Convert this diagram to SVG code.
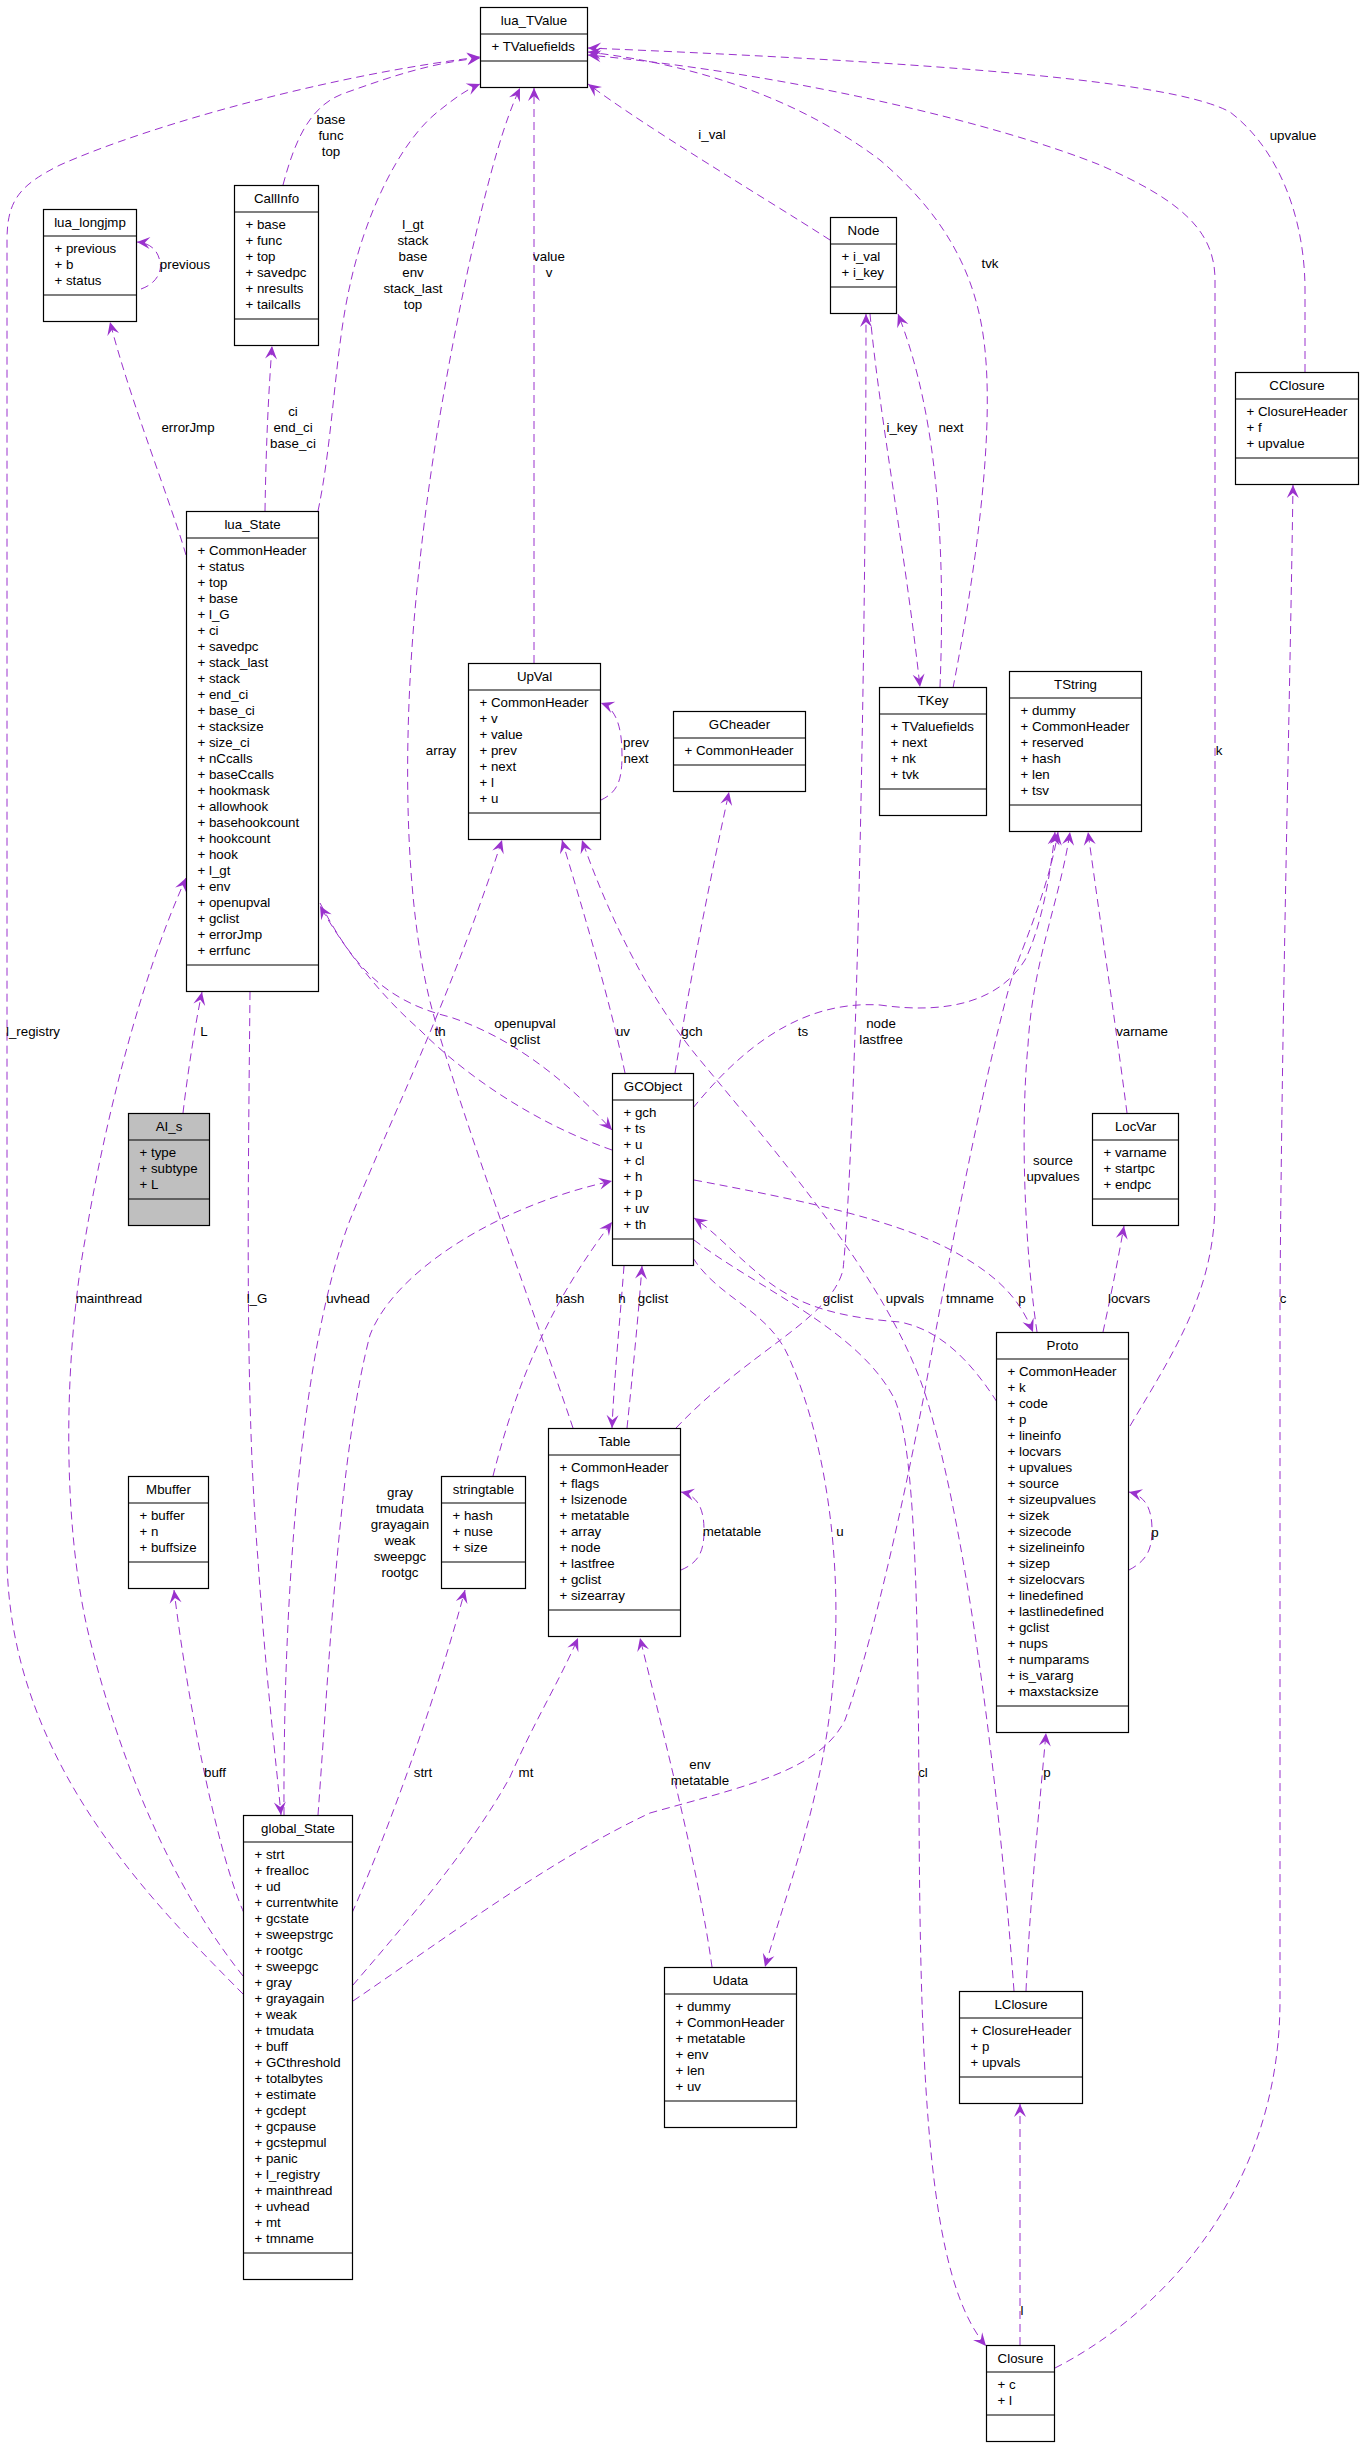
<svg xmlns="http://www.w3.org/2000/svg" width="1363" height="2448" viewBox="0 0 1363 2448">
<style>
text{font-family:"Liberation Sans",Arial,sans-serif;font-size:13.3px;fill:#000}
.n rect{fill:#fff;stroke:#000;stroke-width:1.2}
.n line{stroke:#000;stroke-width:1.2}
.n .t{text-anchor:middle}
.g rect{fill:#bfbfbf}
.e{fill:none;stroke:#9a32cd;stroke-width:1;stroke-dasharray:8,5;marker-end:url(#a)}
.l{text-anchor:middle}
</style>
<defs>
<marker id="a" markerWidth="15" markerHeight="14" viewBox="-14 -7 15 14" refX="0" refY="0" orient="auto" markerUnits="userSpaceOnUse" overflow="visible">
<path d="M0,0 L-13,-6 L-8,0 L-13,6 Z" fill="#9a32cd"/>
</marker>
</defs>
<rect width="1363" height="2448" fill="#fff"/>
<g id="connectors">
<g id="e-l_registry"><path class="e" d="M243,1994 C150,1900 10,1760 7,1560 L7,240 C7,200 20,185 60,165 C150,125 330,75 480,57"/><text class="l" x="33" y="1036">l_registry</text></g>
<g id="e-callinfo-tvalue"><path class="e" d="M283,185 C295,140 310,105 345,93 C390,77 430,63 480,58"/><text class="l" x="331" y="124">base</text><text class="l" x="331" y="140">func</text><text class="l" x="331" y="156">top</text></g>
<g id="e-state-tvalue"><path class="e" d="M318,511 C333,440 335,350 350,285 C365,215 400,140 440,110 C455,98 466,90 480,84"/><text class="l" x="413" y="229">l_gt</text><text class="l" x="413" y="245">stack</text><text class="l" x="413" y="261">base</text><text class="l" x="413" y="277">env</text><text class="l" x="413" y="293">stack_last</text><text class="l" x="413" y="309">top</text></g>
<g id="e-mainthread"><path class="e" d="M243,1976 C190,1910 130,1800 90,1640 C60,1520 65,1350 85,1240 C105,1120 140,980 186,878"/><text class="l" x="109" y="1303">mainthread</text></g>
<g id="e-l_G"><path class="e" d="M250,992 C248,1200 245,1400 258,1560 C266,1680 276,1760 281,1815"/><text class="l" x="257" y="1303">l_G</text></g>
<g id="e-L"><path class="e" d="M183,1113 C188,1070 196,1020 202,992"/><text class="l" x="204" y="1036">L</text></g>
<g id="e-errorJmp"><path class="e" d="M186,555 C170,500 130,400 110,322"/><text class="l" x="188" y="432">errorJmp</text></g>
<g id="e-ci"><path class="e" d="M265,511 C266,450 268,400 272,346"/><text class="l" x="293" y="416">ci</text><text class="l" x="293" y="432">end_ci</text><text class="l" x="293" y="448">base_ci</text></g>
<g id="e-previous"><path class="e" d="M141,289 C158,283 162,270 160,262 C158,250 150,243 137,242"/><text class="l" x="185" y="269">previous</text></g>
<g id="e-value"><path class="e" d="M534,663 L534,88"/><text class="l" x="549" y="261">value</text><text class="l" x="549" y="277">v</text></g>
<g id="e-array"><path class="e" d="M573,1428 C530,1300 470,1140 435,1020 C400,900 405,720 415,610 C425,500 440,400 470,260 C490,170 505,120 520,88"/><text class="l" x="441" y="755">array</text></g>
<g id="e-i_val"><path class="e" d="M830,240 C760,195 650,130 588,84"/><text class="l" x="712" y="139">i_val</text></g>
<g id="e-tvk"><path class="e" d="M953,688 C970,600 995,450 985,350 C978,280 950,220 880,160 C800,100 700,65 588,52"/><text class="l" x="990" y="268">tvk</text></g>
<g id="e-k"><path class="e" d="M1130,1426 C1175,1350 1215,1290 1215,1200 L1215,280 C1215,230 1180,200 1100,165 C1000,125 800,75 588,55"/><text class="l" x="1219" y="755">k</text></g>
<g id="e-upvalue"><path class="e" d="M1305,372 L1305,290 C1305,220 1280,150 1230,112 C1180,85 1000,65 588,48"/><text class="l" x="1293" y="140">upvalue</text></g>
<g id="e-c"><path class="e" d="M1055,2368 C1150,2320 1280,2200 1280,2000 L1280,1300 C1282,1000 1290,700 1293,485"/><text class="l" x="1283" y="1303">c</text></g>
<g id="e-l"><path class="e" d="M1020,2345 L1020,2104"/><text class="l" x="1022" y="2315">l</text></g>
<g id="e-lclosure-p"><path class="e" d="M1026,1991 C1030,1900 1040,1800 1046,1733"/><text class="l" x="1047" y="1777">p</text></g>
<g id="e-upvals"><path class="e" d="M1014,1991 C1000,1800 970,1550 930,1410 C900,1300 800,1180 700,1060 C650,1000 610,920 582,840"/><text class="l" x="905" y="1303">upvals</text></g>
<g id="e-uv"><path class="e" d="M625,1073 C610,1000 580,900 562,840"/><text class="l" x="623" y="1036">uv</text></g>
<g id="e-uvhead"><path class="e" d="M284,1815 C283,1600 300,1350 350,1220 C390,1120 450,1000 502,840"/><text class="l" x="348" y="1303">uvhead</text></g>
<g id="e-gray"><path class="e" d="M318,1815 C330,1650 340,1450 370,1335 C395,1270 500,1205 612,1181"/><text class="l" x="400" y="1497">gray</text><text class="l" x="400" y="1513">tmudata</text><text class="l" x="400" y="1529">grayagain</text><text class="l" x="400" y="1545">weak</text><text class="l" x="400" y="1561">sweepgc</text><text class="l" x="400" y="1577">rootgc</text></g>
<g id="e-openupval"><path class="e" d="M320,903 C350,960 380,1000 450,1017 C520,1040 575,1090 612,1130"/><text class="l" x="525" y="1028">openupval</text><text class="l" x="525" y="1044">gclist</text></g>
<g id="e-th"><path class="e" d="M612,1150 C540,1125 470,1080 420,1030 C380,995 345,950 320,906"/><text class="l" x="440" y="1036">th</text></g>
<g id="e-gch"><path class="e" d="M675,1073 C690,980 710,880 729,792"/><text class="l" x="692" y="1036">gch</text></g>
<g id="e-ts"><path class="e" d="M693,1108 C740,1050 800,1000 880,1005 C950,1015 1000,1000 1025,960 C1040,930 1050,880 1055,832"/><text class="l" x="803" y="1036">ts</text></g>
<g id="e-varname"><path class="e" d="M1127,1113 C1115,1020 1100,920 1088,832"/><text class="l" x="1142" y="1036">varname</text></g>
<g id="e-source"><path class="e" d="M1037,1332 C1025,1250 1020,1130 1028,1045 C1033,960 1060,900 1070,832"/><text class="l" x="1053" y="1165">source</text><text class="l" x="1053" y="1181">upvalues</text></g>
<g id="e-tmname"><path class="e" d="M353,2001 C450,1935 550,1860 650,1813 C750,1785 820,1770 845,1720 C870,1650 900,1520 925,1390 C950,1250 990,1050 1013,974 C1030,930 1050,880 1058,832"/><text class="l" x="970" y="1303">tmname</text></g>
<g id="e-env"><path class="e" d="M712,1967 C700,1880 670,1760 640,1638"/><text class="l" x="700" y="1769">env</text><text class="l" x="700" y="1785">metatable</text></g>
<g id="e-mt"><path class="e" d="M353,1985 C400,1930 470,1850 510,1777 C535,1720 560,1680 578,1638"/><text class="l" x="526" y="1777">mt</text></g>
<g id="e-strt"><path class="e" d="M352,1913 C380,1850 430,1720 465,1590"/><text class="l" x="423" y="1777">strt</text></g>
<g id="e-buff"><path class="e" d="M244,1913 C220,1860 190,1720 174,1590"/><text class="l" x="215" y="1777">buff</text></g>
<g id="e-u"><path class="e" d="M693,1258 C720,1300 770,1310 790,1360 C825,1440 840,1550 835,1650 C830,1780 790,1880 765,1967"/><text class="l" x="840" y="1536">u</text></g>
<g id="e-gco-p"><path class="e" d="M694,1180 C800,1200 900,1220 960,1255 C1000,1278 1020,1300 1033,1332"/><text class="l" x="1022" y="1303">p</text></g>
<g id="e-proto-gclist"><path class="e" d="M997,1402 C970,1360 940,1330 900,1322 C850,1318 800,1310 760,1275 C730,1250 715,1232 694,1218"/><text class="l" x="838" y="1303">gclist</text></g>
<g id="e-cl"><path class="e" d="M694,1240 C760,1290 860,1330 895,1400 C915,1450 918,1600 919,1800 C920,2100 930,2280 986,2346"/><text class="l" x="923" y="1777">cl</text></g>
<g id="e-node"><path class="e" d="M676,1428 C750,1350 830,1320 843,1270 C855,1150 866,700 866,314"/><text class="l" x="881" y="1028">node</text><text class="l" x="881" y="1044">lastfree</text></g>
<g id="e-i_key"><path class="e" d="M870,314 C880,420 905,550 920,687"/><text class="l" x="902" y="432">i_key</text></g>
<g id="e-next"><path class="e" d="M940,687 C945,560 940,420 898,314"/><text class="l" x="951" y="432">next</text></g>
<g id="e-prevnext"><path class="e" d="M601,800 C618,792 622,780 622,755 C622,725 615,708 601,703"/><text class="l" x="636" y="747">prev</text><text class="l" x="636" y="763">next</text></g>
<g id="e-metatable"><path class="e" d="M681,1570 C700,1562 704,1550 704,1530 C704,1505 695,1495 681,1492"/><text class="l" x="732" y="1536">metatable</text></g>
<g id="e-proto-p"><path class="e" d="M1129,1570 C1148,1560 1152,1548 1152,1530 C1152,1508 1145,1496 1129,1492"/><text class="l" x="1155" y="1537">p</text></g>
<g id="e-hash"><path class="e" d="M493,1476 C515,1390 545,1310 612,1222"/><text class="l" x="570" y="1303">hash</text></g>
<g id="e-h"><path class="e" d="M624,1266 C620,1320 614,1380 612,1428"/><text class="l" x="622" y="1303">h</text></g>
<g id="e-table-gclist"><path class="e" d="M627,1428 C632,1380 638,1320 642,1266"/><text class="l" x="653" y="1303">gclist</text></g>
<g id="e-locvars"><path class="e" d="M1103,1332 C1110,1300 1118,1260 1124,1226"/><text class="l" x="1129" y="1303">locvars</text></g>
</g>
<g id="lua_TValue" class="n"><rect x="480.5" y="7.5" width="107" height="80"/><line x1="480.5" y1="34" x2="587.5" y2="34"/><line x1="480.5" y1="61" x2="587.5" y2="61"/><text class="t" x="534" y="25">lua_TValue</text><text x="491.5" y="51">+ TValuefields</text></g>
<g id="lua_longjmp" class="n"><rect x="43.5" y="209.5" width="93" height="112"/><line x1="43.5" y1="236" x2="136.5" y2="236"/><line x1="43.5" y1="295" x2="136.5" y2="295"/><text class="t" x="90" y="227">lua_longjmp</text><text x="54.5" y="253"><tspan x="54.5">+ previous</tspan><tspan x="54.5" dy="16">+ b</tspan><tspan x="54.5" dy="16">+ status</tspan></text></g>
<g id="CallInfo" class="n"><rect x="234.5" y="185.5" width="84" height="160"/><line x1="234.5" y1="212" x2="318.5" y2="212"/><line x1="234.5" y1="319" x2="318.5" y2="319"/><text class="t" x="276.5" y="203">CallInfo</text><text x="245.5" y="229"><tspan x="245.5">+ base</tspan><tspan x="245.5" dy="16">+ func</tspan><tspan x="245.5" dy="16">+ top</tspan><tspan x="245.5" dy="16">+ savedpc</tspan><tspan x="245.5" dy="16">+ nresults</tspan><tspan x="245.5" dy="16">+ tailcalls</tspan></text></g>
<g id="Node" class="n"><rect x="830.5" y="217.5" width="66" height="96"/><line x1="830.5" y1="244" x2="896.5" y2="244"/><line x1="830.5" y1="287" x2="896.5" y2="287"/><text class="t" x="863.5" y="235">Node</text><text x="841.5" y="261"><tspan x="841.5">+ i_val</tspan><tspan x="841.5" dy="16">+ i_key</tspan></text></g>
<g id="CClosure" class="n"><rect x="1235.5" y="372.5" width="123" height="112"/><line x1="1235.5" y1="399" x2="1358.5" y2="399"/><line x1="1235.5" y1="458" x2="1358.5" y2="458"/><text class="t" x="1297" y="390">CClosure</text><text x="1246.5" y="416"><tspan x="1246.5">+ ClosureHeader</tspan><tspan x="1246.5" dy="16">+ f</tspan><tspan x="1246.5" dy="16">+ upvalue</tspan></text></g>
<g id="lua_State" class="n"><rect x="186.5" y="511.5" width="132" height="480"/><line x1="186.5" y1="538" x2="318.5" y2="538"/><line x1="186.5" y1="965" x2="318.5" y2="965"/><text class="t" x="252.5" y="529">lua_State</text><text x="197.5" y="555"><tspan x="197.5">+ CommonHeader</tspan><tspan x="197.5" dy="16">+ status</tspan><tspan x="197.5" dy="16">+ top</tspan><tspan x="197.5" dy="16">+ base</tspan><tspan x="197.5" dy="16">+ l_G</tspan><tspan x="197.5" dy="16">+ ci</tspan><tspan x="197.5" dy="16">+ savedpc</tspan><tspan x="197.5" dy="16">+ stack_last</tspan><tspan x="197.5" dy="16">+ stack</tspan><tspan x="197.5" dy="16">+ end_ci</tspan><tspan x="197.5" dy="16">+ base_ci</tspan><tspan x="197.5" dy="16">+ stacksize</tspan><tspan x="197.5" dy="16">+ size_ci</tspan><tspan x="197.5" dy="16">+ nCcalls</tspan><tspan x="197.5" dy="16">+ baseCcalls</tspan><tspan x="197.5" dy="16">+ hookmask</tspan><tspan x="197.5" dy="16">+ allowhook</tspan><tspan x="197.5" dy="16">+ basehookcount</tspan><tspan x="197.5" dy="16">+ hookcount</tspan><tspan x="197.5" dy="16">+ hook</tspan><tspan x="197.5" dy="16">+ l_gt</tspan><tspan x="197.5" dy="16">+ env</tspan><tspan x="197.5" dy="16">+ openupval</tspan><tspan x="197.5" dy="16">+ gclist</tspan><tspan x="197.5" dy="16">+ errorJmp</tspan><tspan x="197.5" dy="16">+ errfunc</tspan></text></g>
<g id="UpVal" class="n"><rect x="468.5" y="663.5" width="132" height="176"/><line x1="468.5" y1="690" x2="600.5" y2="690"/><line x1="468.5" y1="813" x2="600.5" y2="813"/><text class="t" x="534.5" y="681">UpVal</text><text x="479.5" y="707"><tspan x="479.5">+ CommonHeader</tspan><tspan x="479.5" dy="16">+ v</tspan><tspan x="479.5" dy="16">+ value</tspan><tspan x="479.5" dy="16">+ prev</tspan><tspan x="479.5" dy="16">+ next</tspan><tspan x="479.5" dy="16">+ l</tspan><tspan x="479.5" dy="16">+ u</tspan></text></g>
<g id="GCheader" class="n"><rect x="673.5" y="711.5" width="132" height="80"/><line x1="673.5" y1="738" x2="805.5" y2="738"/><line x1="673.5" y1="765" x2="805.5" y2="765"/><text class="t" x="739.5" y="729">GCheader</text><text x="684.5" y="755">+ CommonHeader</text></g>
<g id="TKey" class="n"><rect x="879.5" y="687.5" width="107" height="128"/><line x1="879.5" y1="714" x2="986.5" y2="714"/><line x1="879.5" y1="789" x2="986.5" y2="789"/><text class="t" x="933" y="705">TKey</text><text x="890.5" y="731"><tspan x="890.5">+ TValuefields</tspan><tspan x="890.5" dy="16">+ next</tspan><tspan x="890.5" dy="16">+ nk</tspan><tspan x="890.5" dy="16">+ tvk</tspan></text></g>
<g id="TString" class="n"><rect x="1009.5" y="671.5" width="132" height="160"/><line x1="1009.5" y1="698" x2="1141.5" y2="698"/><line x1="1009.5" y1="805" x2="1141.5" y2="805"/><text class="t" x="1075.5" y="689">TString</text><text x="1020.5" y="715"><tspan x="1020.5">+ dummy</tspan><tspan x="1020.5" dy="16">+ CommonHeader</tspan><tspan x="1020.5" dy="16">+ reserved</tspan><tspan x="1020.5" dy="16">+ hash</tspan><tspan x="1020.5" dy="16">+ len</tspan><tspan x="1020.5" dy="16">+ tsv</tspan></text></g>
<g id="AI_s" class="n g"><rect x="128.5" y="1113.5" width="81" height="112"/><line x1="128.5" y1="1140" x2="209.5" y2="1140"/><line x1="128.5" y1="1199" x2="209.5" y2="1199"/><text class="t" x="169" y="1131">AI_s</text><text x="139.5" y="1157"><tspan x="139.5">+ type</tspan><tspan x="139.5" dy="16">+ subtype</tspan><tspan x="139.5" dy="16">+ L</tspan></text></g>
<g id="GCObject" class="n"><rect x="612.5" y="1073.5" width="81" height="192"/><line x1="612.5" y1="1100" x2="693.5" y2="1100"/><line x1="612.5" y1="1239" x2="693.5" y2="1239"/><text class="t" x="653" y="1091">GCObject</text><text x="623.5" y="1117"><tspan x="623.5">+ gch</tspan><tspan x="623.5" dy="16">+ ts</tspan><tspan x="623.5" dy="16">+ u</tspan><tspan x="623.5" dy="16">+ cl</tspan><tspan x="623.5" dy="16">+ h</tspan><tspan x="623.5" dy="16">+ p</tspan><tspan x="623.5" dy="16">+ uv</tspan><tspan x="623.5" dy="16">+ th</tspan></text></g>
<g id="LocVar" class="n"><rect x="1092.5" y="1113.5" width="86" height="112"/><line x1="1092.5" y1="1140" x2="1178.5" y2="1140"/><line x1="1092.5" y1="1199" x2="1178.5" y2="1199"/><text class="t" x="1135.5" y="1131">LocVar</text><text x="1103.5" y="1157"><tspan x="1103.5">+ varname</tspan><tspan x="1103.5" dy="16">+ startpc</tspan><tspan x="1103.5" dy="16">+ endpc</tspan></text></g>
<g id="Mbuffer" class="n"><rect x="128.5" y="1476.5" width="80" height="112"/><line x1="128.5" y1="1503" x2="208.5" y2="1503"/><line x1="128.5" y1="1562" x2="208.5" y2="1562"/><text class="t" x="168.5" y="1494">Mbuffer</text><text x="139.5" y="1520"><tspan x="139.5">+ buffer</tspan><tspan x="139.5" dy="16">+ n</tspan><tspan x="139.5" dy="16">+ buffsize</tspan></text></g>
<g id="stringtable" class="n"><rect x="441.5" y="1476.5" width="84" height="112"/><line x1="441.5" y1="1503" x2="525.5" y2="1503"/><line x1="441.5" y1="1562" x2="525.5" y2="1562"/><text class="t" x="483.5" y="1494">stringtable</text><text x="452.5" y="1520"><tspan x="452.5">+ hash</tspan><tspan x="452.5" dy="16">+ nuse</tspan><tspan x="452.5" dy="16">+ size</tspan></text></g>
<g id="Table" class="n"><rect x="548.5" y="1428.5" width="132" height="208"/><line x1="548.5" y1="1455" x2="680.5" y2="1455"/><line x1="548.5" y1="1610" x2="680.5" y2="1610"/><text class="t" x="614.5" y="1446">Table</text><text x="559.5" y="1472"><tspan x="559.5">+ CommonHeader</tspan><tspan x="559.5" dy="16">+ flags</tspan><tspan x="559.5" dy="16">+ lsizenode</tspan><tspan x="559.5" dy="16">+ metatable</tspan><tspan x="559.5" dy="16">+ array</tspan><tspan x="559.5" dy="16">+ node</tspan><tspan x="559.5" dy="16">+ lastfree</tspan><tspan x="559.5" dy="16">+ gclist</tspan><tspan x="559.5" dy="16">+ sizearray</tspan></text></g>
<g id="Proto" class="n"><rect x="996.5" y="1332.5" width="132" height="400"/><line x1="996.5" y1="1359" x2="1128.5" y2="1359"/><line x1="996.5" y1="1706" x2="1128.5" y2="1706"/><text class="t" x="1062.5" y="1350">Proto</text><text x="1007.5" y="1376"><tspan x="1007.5">+ CommonHeader</tspan><tspan x="1007.5" dy="16">+ k</tspan><tspan x="1007.5" dy="16">+ code</tspan><tspan x="1007.5" dy="16">+ p</tspan><tspan x="1007.5" dy="16">+ lineinfo</tspan><tspan x="1007.5" dy="16">+ locvars</tspan><tspan x="1007.5" dy="16">+ upvalues</tspan><tspan x="1007.5" dy="16">+ source</tspan><tspan x="1007.5" dy="16">+ sizeupvalues</tspan><tspan x="1007.5" dy="16">+ sizek</tspan><tspan x="1007.5" dy="16">+ sizecode</tspan><tspan x="1007.5" dy="16">+ sizelineinfo</tspan><tspan x="1007.5" dy="16">+ sizep</tspan><tspan x="1007.5" dy="16">+ sizelocvars</tspan><tspan x="1007.5" dy="16">+ linedefined</tspan><tspan x="1007.5" dy="16">+ lastlinedefined</tspan><tspan x="1007.5" dy="16">+ gclist</tspan><tspan x="1007.5" dy="16">+ nups</tspan><tspan x="1007.5" dy="16">+ numparams</tspan><tspan x="1007.5" dy="16">+ is_vararg</tspan><tspan x="1007.5" dy="16">+ maxstacksize</tspan></text></g>
<g id="global_State" class="n"><rect x="243.5" y="1815.5" width="109" height="464"/><line x1="243.5" y1="1842" x2="352.5" y2="1842"/><line x1="243.5" y1="2253" x2="352.5" y2="2253"/><text class="t" x="298" y="1833">global_State</text><text x="254.5" y="1859"><tspan x="254.5">+ strt</tspan><tspan x="254.5" dy="16">+ frealloc</tspan><tspan x="254.5" dy="16">+ ud</tspan><tspan x="254.5" dy="16">+ currentwhite</tspan><tspan x="254.5" dy="16">+ gcstate</tspan><tspan x="254.5" dy="16">+ sweepstrgc</tspan><tspan x="254.5" dy="16">+ rootgc</tspan><tspan x="254.5" dy="16">+ sweepgc</tspan><tspan x="254.5" dy="16">+ gray</tspan><tspan x="254.5" dy="16">+ grayagain</tspan><tspan x="254.5" dy="16">+ weak</tspan><tspan x="254.5" dy="16">+ tmudata</tspan><tspan x="254.5" dy="16">+ buff</tspan><tspan x="254.5" dy="16">+ GCthreshold</tspan><tspan x="254.5" dy="16">+ totalbytes</tspan><tspan x="254.5" dy="16">+ estimate</tspan><tspan x="254.5" dy="16">+ gcdept</tspan><tspan x="254.5" dy="16">+ gcpause</tspan><tspan x="254.5" dy="16">+ gcstepmul</tspan><tspan x="254.5" dy="16">+ panic</tspan><tspan x="254.5" dy="16">+ l_registry</tspan><tspan x="254.5" dy="16">+ mainthread</tspan><tspan x="254.5" dy="16">+ uvhead</tspan><tspan x="254.5" dy="16">+ mt</tspan><tspan x="254.5" dy="16">+ tmname</tspan></text></g>
<g id="Udata" class="n"><rect x="664.5" y="1967.5" width="132" height="160"/><line x1="664.5" y1="1994" x2="796.5" y2="1994"/><line x1="664.5" y1="2101" x2="796.5" y2="2101"/><text class="t" x="730.5" y="1985">Udata</text><text x="675.5" y="2011"><tspan x="675.5">+ dummy</tspan><tspan x="675.5" dy="16">+ CommonHeader</tspan><tspan x="675.5" dy="16">+ metatable</tspan><tspan x="675.5" dy="16">+ env</tspan><tspan x="675.5" dy="16">+ len</tspan><tspan x="675.5" dy="16">+ uv</tspan></text></g>
<g id="LClosure" class="n"><rect x="959.5" y="1991.5" width="123" height="112"/><line x1="959.5" y1="2018" x2="1082.5" y2="2018"/><line x1="959.5" y1="2077" x2="1082.5" y2="2077"/><text class="t" x="1021" y="2009">LClosure</text><text x="970.5" y="2035"><tspan x="970.5">+ ClosureHeader</tspan><tspan x="970.5" dy="16">+ p</tspan><tspan x="970.5" dy="16">+ upvals</tspan></text></g>
<g id="Closure" class="n"><rect x="986.5" y="2345.5" width="68" height="96"/><line x1="986.5" y1="2372" x2="1054.5" y2="2372"/><line x1="986.5" y1="2415" x2="1054.5" y2="2415"/><text class="t" x="1020.5" y="2363">Closure</text><text x="997.5" y="2389"><tspan x="997.5">+ c</tspan><tspan x="997.5" dy="16">+ l</tspan></text></g>
</svg>
